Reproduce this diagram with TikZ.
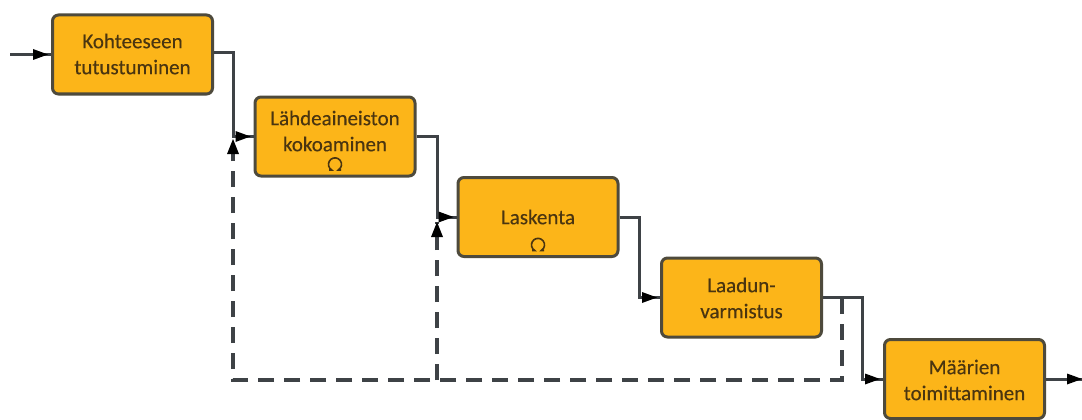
\documentclass[tikz,border=0pt]{standalone}
\usepackage{fontspec}
\setmainfont{Carlito}
\newfontfamily\boxfont[FakeBold=0.3]{Carlito}
\usetikzlibrary{arrows.meta,decorations.markings}
\definecolor{boxfill}{HTML}{FCB519}
\definecolor{boxline}{HTML}{4E4A3C}
\definecolor{flowline}{HTML}{3E4246}
\definecolor{txt}{HTML}{4A3510}
\tikzset{
  x=1pt,y=-1pt,
  procbox/.style={draw=boxline,line width=3pt,fill=boxfill,rounded corners=6pt,
    minimum width=160pt,minimum height=79pt,inner sep=0pt},
  boxtext/.style={text=txt,align=center,font=\boxfont\fontsize{21}{26}\selectfont,inner sep=0pt},
  flow/.style={draw=flowline,line width=3pt,postaction={decorate},
    decoration={markings,mark=at position -3pt with {\fill[black,draw=none] (-15pt,-5.5pt) -- (0pt,0pt) -- (-15pt,5.5pt) -- cycle;}}},
  dashflow/.style={draw=flowline,line width=3.2pt,dash pattern=on 16pt off 10pt},
  loopmark/.style={draw=txt,line width=1.6pt},
}
\begin{document}
\begin{tikzpicture}
\useasboundingbox (0,0) rectangle (1082,420);
\fill[white] (0,0) rectangle (1082,420);
% coordinates
\coordinate (in) at (10,54.5);
\coordinate (out) at (1085,379);
\coordinate (j1) at (233,136.5);
\coordinate (j2) at (437,217);
\coordinate (j3) at (639,297.5);
\coordinate (j4) at (862,379);
\coordinate (fbs) at (842,298);
\coordinate (fbc) at (842,380);
\coordinate (fbm) at (437,380);
\coordinate (fbl) at (233,380);
\coordinate (fbe1) at (233,139);
\coordinate (fbe2) at (437,222);
% dashed feedback
\draw[dashflow] (fbs) -- (fbc) -- (fbl) -- (fbe1);
\draw[dashflow] (fbm) -- (fbe2);
\fill[black] (fbe1) -- ++(-6,15) -- ++(12,0) -- cycle;
\fill[black] (fbe2) -- ++(-6,15) -- ++(12,0) -- cycle;
% boxes
\node[procbox] (b1) at (132.5,54.5) {};
\node[procbox] (b2) at (335,136.5) {};
\node[procbox] (b3) at (538,217) {};
\node[procbox] (b4) at (741.5,297.5) {};
\node[procbox] (b5) at (964.5,379) {};
% texts
\node[boxtext] (t1) at (132.5,54) {Kohteeseen\\tutustuminen};
\node[boxtext] (t2) at (335,131) {Lähdeaineiston\\kokoaminen};
\node[boxtext] (t3) at (538,217) {Laskenta};
\node[boxtext] (t4) at (741.5,298) {Laadun-\\varmistus};
\node[boxtext] (t5) at (964.5,380) {Määrien\\toimittaminen};
% loop markers
\draw[loopmark] (329,170) -- (331.75,170) arc[start angle=120,end angle=420,radius=6.5] -- (341,170);
\draw[loopmark] (532,250.5) -- (534.75,250.5) arc[start angle=120,end angle=420,radius=6.5] -- (544,250.5);
% flow
\draw[flow] (in) -- (b1.west);
\draw[flow] (b1.east |- 0,53) -| (j1) -- (b2.west);
\draw[flow] (b2.east) -| (j2) -- (b3.west);
\draw[flow] (b3.east) -| (j3) -- (b4.west);
\draw[flow] (b4.east) -| (j4) -- (b5.west);
\draw[flow] (b5.east) -- (out);
\end{tikzpicture}
\end{document}
